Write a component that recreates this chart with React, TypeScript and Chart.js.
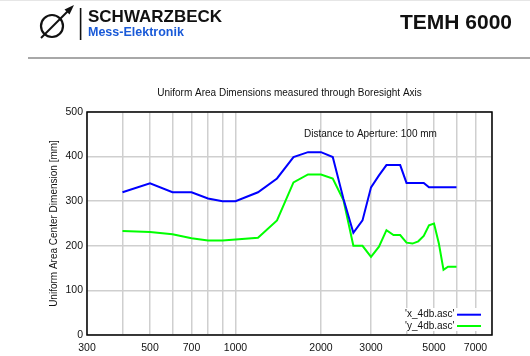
import React, { useEffect, useRef } from 'react';
import { Chart, registerables } from 'chart.js';

Chart.register(...registerables);

// ---- data ----
const frequencies = [
  400, 500, 600, 700, 800, 900, 1000, 1200, 1400, 1600, 1800, 2000, 2200, 2400, 2600, 2800,
  3000, 3200, 3400, 3600, 3800, 4000, 4200, 4400, 4600, 4800, 5000, 5200, 5400, 5600, 5800, 6000,
];
const xDimension = [
  320, 340, 320, 320, 306, 300, 300, 320, 351, 399, 410, 410, 399, 305, 229, 257,
  331, 358, 381, 381, 381, 341, 341, 341, 341, 331, 331, 331, 331, 331, 331, 331,
];
const yDimension = [
  233, 231, 226, 217, 212, 212, 214, 218, 257, 342, 360, 360, 351, 302, 200, 200,
  175, 198, 235, 224, 224, 207, 205, 210, 222, 246, 250, 205, 146, 153, 153, 153,
];
const xGridTicks = [300, 400, 500, 600, 700, 800, 900, 1000, 2000, 3000, 4000, 5000, 6000, 7000, 8000];
const xTickLabels = [300, 500, 700, 1000, 2000, 3000, 5000, 7000];
const seriesNames = ["'x_4db.asc'", "'y_4db.asc'"];
const seriesColors = ['#0000ff', '#00ff00'];

const chartTitle = 'Uniform Area Dimensions measured through Boresight Axis';
const yTitle = 'Uniform Area Center Dimension [mm]';
const annotation = 'Distance to Aperture: 100 mm';

const FONT = '"Liberation Sans", Arial, Helvetica, sans-serif';

const framePlugin = {
  id: 'frame',
  afterDraw(chart: any) {
    const { ctx, chartArea: a } = chart;
    ctx.save();
    // plot border
    ctx.strokeStyle = '#000';
    ctx.lineWidth = 1.5;
    ctx.strokeRect(a.left, a.top, a.right - a.left, a.bottom - a.top);

    ctx.fillStyle = '#111';
    ctx.font = `10px ${FONT}`;
    ctx.textBaseline = 'middle';
    // title
    ctx.textAlign = 'center';
    ctx.fillText(chartTitle, (a.left + a.right) / 2, a.top - 18.5);
    // annotation
    ctx.fillText(annotation, a.left + 283.5, a.top + 22.5);
    // y title
    ctx.save();
    ctx.translate(a.left - 32.5, (a.top + a.bottom) / 2);
    ctx.rotate(-Math.PI / 2);
    ctx.fillText(yTitle, 0, 0);
    ctx.restore();

    // legend
    ctx.fillStyle = '#fff';
    ctx.fillRect(a.right - 94, a.bottom - 27, 93, 23);
    seriesNames.forEach((name, i) => {
      const y = a.bottom - 20.3 + i * 11.3;
      ctx.fillStyle = '#111';
      ctx.textAlign = 'right';
      ctx.fillText(name, a.right - 37.5, y);
      ctx.strokeStyle = seriesColors[i];
      ctx.lineWidth = 2;
      ctx.beginPath();
      ctx.moveTo(a.right - 35, y);
      ctx.lineTo(a.right - 11, y);
      ctx.stroke();
    });
    ctx.restore();
  },
};

export default function App() {
  const canvasRef = useRef<HTMLCanvasElement | null>(null);

  useEffect(() => {
    if (!canvasRef.current) return;
    const chart = new Chart(canvasRef.current, {
      type: 'line',
      data: {
        datasets: [
          {
            label: seriesNames[0],
            data: frequencies.map((f, i) => ({ x: f, y: xDimension[i] })),
            borderColor: seriesColors[0],
            borderWidth: 2,
            pointRadius: 0,
            tension: 0,
            fill: false,
          },
          {
            label: seriesNames[1],
            data: frequencies.map((f, i) => ({ x: f, y: yDimension[i] })),
            borderColor: seriesColors[1],
            borderWidth: 2,
            pointRadius: 0,
            tension: 0,
            fill: false,
          },
        ],
      },
      options: {
        animation: false,
        responsive: false,
        devicePixelRatio: 1,
        layout: { padding: { top: 112, right: 38, left: 0, bottom: 0 } },
        plugins: {
          legend: { display: false },
          tooltip: { enabled: false },
          title: { display: false },
        },
        scales: {
          x: {
            type: 'logarithmic',
            min: 300,
            max: 8000,
            afterBuildTicks: (scale: any) => {
              scale.ticks = xGridTicks.map((v) => ({ value: v }));
            },
            afterFit: (scale: any) => {
              scale.height = 21;
            },
            ticks: {
              autoSkip: false,
              maxRotation: 0,
              minRotation: 0,
              padding: 6.5,
              color: '#111',
              font: { family: FONT, size: 10.5 },
              callback: (value: any) => (xTickLabels.includes(Number(value)) ? String(value) : ''),
            },
            grid: { color: '#cfcfcf', lineWidth: 1.5, drawTicks: false },
            border: { display: false },
          },
          y: {
            type: 'linear',
            min: 0,
            max: 500,
            afterFit: (scale: any) => {
              scale.width = 87;
            },
            ticks: {
              stepSize: 100,
              padding: 4,
              color: '#111',
              font: { family: FONT, size: 10.5 },
            },
            grid: { color: '#cfcfcf', lineWidth: 1.5, drawTicks: false },
            border: { display: false },
          },
        },
      },
      plugins: [framePlugin],
    });
    return () => chart.destroy();
  }, []);

  return (
    <div
      style={{
        position: 'fixed',
        left: 0,
        top: 0,
        width: 530,
        height: 356,
        background: '#fff',
        overflow: 'hidden',
        fontFamily: FONT,
      }}
    >
      <canvas
        ref={canvasRef}
        width={530}
        height={356}
        style={{ position: 'absolute', left: 0, top: 0, width: 530, height: 356 }}
      />
      <div style={{ position: 'absolute', left: 0, top: 0, width: 530, height: 1, background: '#e6e6e6' }} />
      <svg
        width={90}
        height={50}
        style={{ position: 'absolute', left: 0, top: 0 }}
        viewBox="0 0 90 50"
      >
        <circle cx={52} cy={26} r={11} fill="none" stroke="#111" strokeWidth={2.2} />
        <line x1={41} y1={38} x2={69} y2={10} stroke="#111" strokeWidth={2} />
        <polygon points="74,5 64.5,9.5 69.5,14.5" fill="#111" />
        <rect x={79.8} y={8} width={1.6} height={32} fill="#111" />
      </svg>
      <div
        style={{
          position: 'absolute',
          left: 88,
          top: 7.8,
          fontSize: 17,
          lineHeight: '17px',
          fontWeight: 'bold',
          color: '#111',
          whiteSpace: 'nowrap',
        }}
      >
        SCHWARZBECK
      </div>
      <div
        style={{
          position: 'absolute',
          left: 88,
          top: 26.4,
          fontSize: 12.5,
          lineHeight: '12.5px',
          fontWeight: 'bold',
          color: '#1a5ad8',
          whiteSpace: 'nowrap',
        }}
      >
        Mess-Elektronik
      </div>
      <div
        style={{
          position: 'absolute',
          right: 18,
          top: 11.3,
          fontSize: 21,
          lineHeight: '21px',
          fontWeight: 'bold',
          color: '#111',
          whiteSpace: 'nowrap',
        }}
      >
        TEMH 6000
      </div>
      <div
        style={{ position: 'absolute', left: 28, top: 56.5, width: 502, height: 2, background: '#a8a8a8' }}
      />
    </div>
  );
}
